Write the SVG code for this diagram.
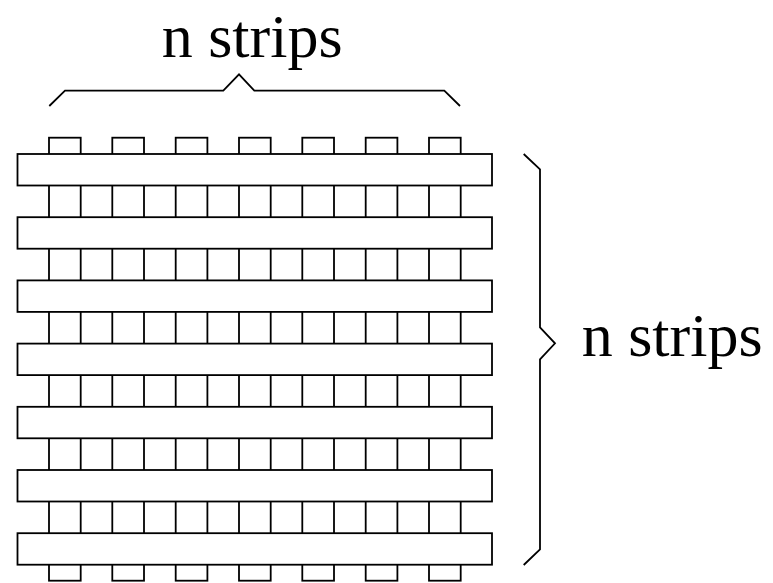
<svg xmlns="http://www.w3.org/2000/svg" width="773" height="583" viewBox="0 0 773 583">
<style>
.s{fill:#fff;stroke:#000;stroke-width:1.8}
.b{fill:none;stroke:#000;stroke-width:1.8}
.t{font-family:"Liberation Serif","Times New Roman",serif;font-size:62px;fill:#000}
</style>
<rect width="773" height="583" fill="#fff"/>
<g id="vertical-strips">
<rect class="s" x="49" y="137.7" width="31.7" height="443"/>
<rect class="s" x="112.3" y="137.7" width="31.7" height="443"/>
<rect class="s" x="175.7" y="137.7" width="31.7" height="443"/>
<rect class="s" x="239" y="137.7" width="31.7" height="443"/>
<rect class="s" x="302.3" y="137.7" width="31.7" height="443"/>
<rect class="s" x="365.7" y="137.7" width="31.7" height="443"/>
<rect class="s" x="429" y="137.7" width="31.7" height="443"/>
</g>
<g id="horizontal-strips">
<rect class="s" x="17.5" y="154" width="474.5" height="31.5"/>
<rect class="s" x="17.5" y="217.2" width="474.5" height="31.5"/>
<rect class="s" x="17.5" y="280.4" width="474.5" height="31.5"/>
<rect class="s" x="17.5" y="343.6" width="474.5" height="31.5"/>
<rect class="s" x="17.5" y="406.8" width="474.5" height="31.5"/>
<rect class="s" x="17.5" y="470" width="474.5" height="31.5"/>
<rect class="s" x="17.5" y="533.2" width="474.5" height="31.5"/>
</g>
<g id="braces">
<path class="b" d="M49.3,106 L65,90.7 L223.3,90.7 L239,74.3 L254.3,90.7 L444.3,90.7 L460,106"/>
<path class="b" d="M523.7,154 L540,169.3 L540,327.3 L555,343.3 L540,359.3 L540,549.3 L523.7,565"/>
</g>
<g id="labels">
<text class="t" x="161.7" y="56.7">n strips</text>
<text class="t" x="581.7" y="356">n strips</text>
</g>
</svg>
